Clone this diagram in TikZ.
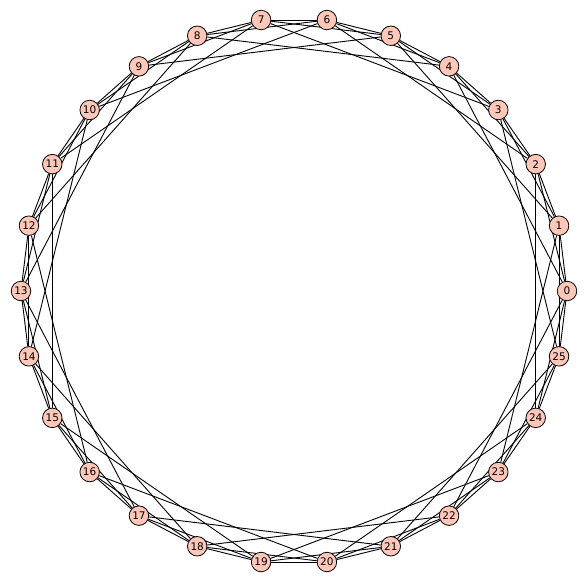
\documentclass[tikz,border=0pt]{standalone}
\usepackage{fontspec}
\setmainfont{DejaVu Sans}
\usetikzlibrary{backgrounds}
\definecolor{vfill}{RGB}{254,199,184}
\begin{document}
\begin{tikzpicture}[x=1pt,y=-1pt,
  vtx/.style={circle,draw=black,fill=vfill,line width=0.8pt,minimum size=19.5pt,inner sep=0pt,font=\fontsize{10.5}{12}\selectfont},
  edge/.style={line width=0.9pt,black}]
\useasboundingbox (0,0) rectangle (588,584);
\foreach \i in {0,...,25}
  \node[vtx] (v\i) at ({294+273*cos(\i*360/26)}, {291-273*sin(\i*360/26)}) {\i};
\begin{pgfonlayer}{background}
\foreach \i in {0,...,25} {
  \foreach \s in {1,2,4} {
    \pgfmathtruncatemacro\j{mod(\i+\s,26)}
    \draw[edge] (v\i) -- (v\j);
  }
}
\end{pgfonlayer}
\end{tikzpicture}
\end{document}
